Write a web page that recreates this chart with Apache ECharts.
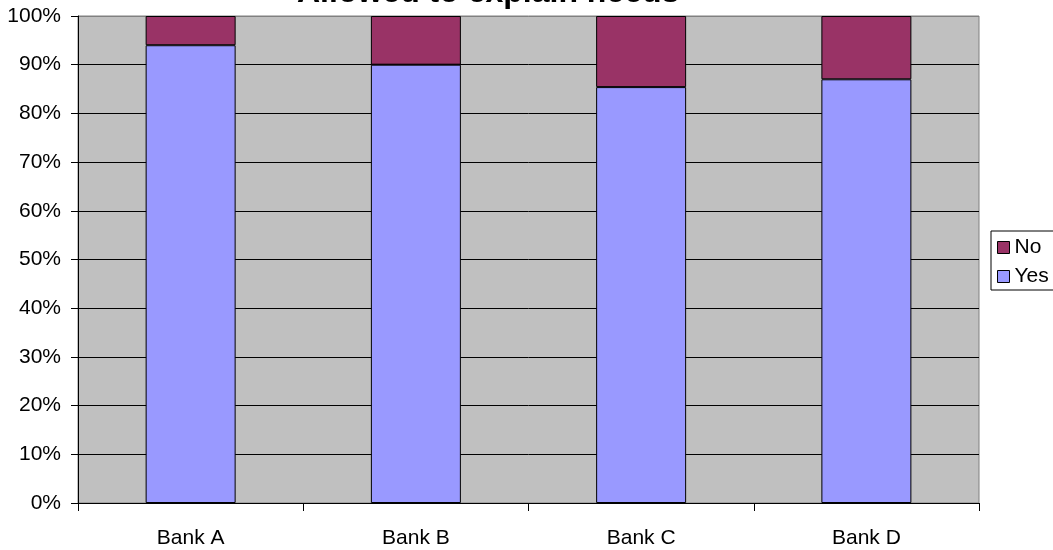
<!DOCTYPE html>
<html>
<head>
<meta charset="utf-8">
<script src="https://cdn.jsdelivr.net/npm/echarts@6/dist/echarts.min.js"></script>
<style>
  html, body { margin: 0; padding: 0; background: #fff; }
  #container { width: 1053px; height: 550px; }
</style>
</head>
<body>
<div id="container"></div>
<script>
// 数据
var banks = ['Bank A', 'Bank B', 'Bank C', 'Bank D'];
var yesData = [94, 90, 85.4, 87];
var noData = [6, 10, 14.6, 13];
var legendNames = ['No', 'Yes'];

var font = '"Liberation Sans", Arial, sans-serif';
var myChart = echarts.init(document.getElementById('container'));

// 网格线颜色：最上面一条是灰色边框
var splitColors = [];
for (var i = 0; i < 10; i++) splitColors.push('#000');
splitColors.push('#808080');

var option = {
	animation: false,
	title: {
		text: 'Allowed to explain needs',
		left: 292,
		top: -28,
		textStyle: {
			fontFamily: font,
			fontWeight: 'bold',
			fontSize: 32,
			color: '#000'
		}
	},
	legend: {
		orient: 'vertical',
		left: 991,
		top: 231,
		data: legendNames,
		itemWidth: 12,
		itemHeight: 12,
		itemGap: 8,
		icon: 'rect',
		padding: [6, 20, 3, 6],
		borderColor: '#000',
		borderWidth: 1,
		backgroundColor: '#fff',
		itemStyle: {
			borderColor: '#000',
			borderWidth: 1
		},
		textStyle: {
			fontFamily: font,
			fontSize: 21,
			color: '#000'
		}
	},
	grid: {
		show: true,
		left: 78,
		right: 74,
		top: 16,
		bottom: 47,
		backgroundColor: '#c0c0c0',
		borderColor: '#808080',
		borderWidth: 1
	},
	xAxis: {
		type: 'category',
		data: banks,
		axisLine: { lineStyle: { color: '#000', width: 1 } },
		axisTick: { show: true, length: 8, lineStyle: { color: '#000' } },
		axisLabel: {
			margin: 25,
			fontFamily: font,
			fontSize: 21,
			color: '#000'
		}
	},
	yAxis: {
		type: 'value',
		min: 0,
		max: 100,
		interval: 10,
		axisLine: { show: true, lineStyle: { color: '#000', width: 1 } },
		axisTick: { show: true, length: 7, lineStyle: { color: '#000' } },
		splitLine: { show: true, lineStyle: { color: splitColors, width: 1 } },
		axisLabel: {
			formatter: '{value}%',
			margin: 17,
			fontFamily: font,
			fontSize: 21,
			color: '#000'
		}
	},
	series: [{
		name: 'Yes',
		type: 'bar',
		stack: 'total',
		barWidth: 90,
		data: yesData,
		itemStyle: { color: '#9999ff', borderColor: '#000', borderWidth: 1 }
	}, {
		name: 'No',
		type: 'bar',
		stack: 'total',
		barWidth: 90,
		data: noData,
		itemStyle: { color: '#993366', borderColor: '#000', borderWidth: 1 }
	}]
};
myChart.setOption(option);
</script>
</body>
</html>
